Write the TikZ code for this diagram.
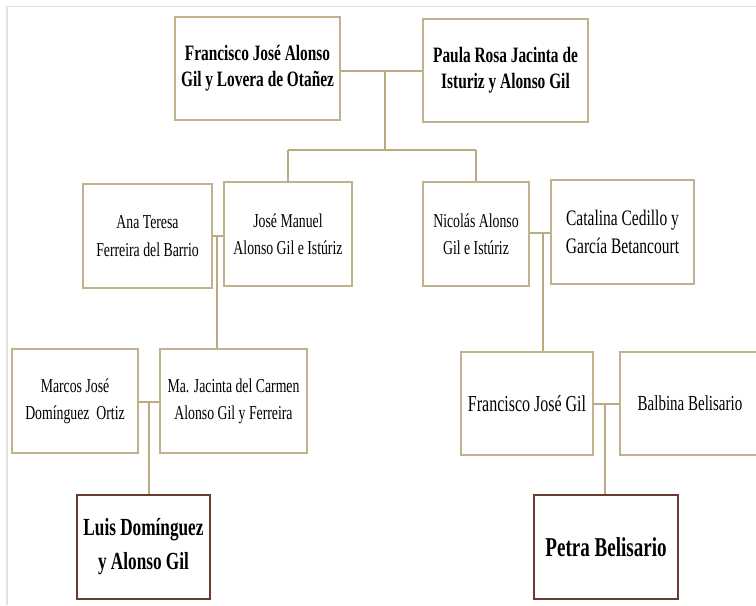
\documentclass[tikz,border=0pt]{standalone}
\usepackage{fontspec}
\setmainfont[FakeStretch=0.7]{Liberation Serif}
\usetikzlibrary{positioning, calc}
\definecolor{boxtan}{RGB}{192,178,142}
\definecolor{linetan}{RGB}{188,170,130}
\definecolor{kidbrown}{RGB}{105,58,48}
\definecolor{framegray}{RGB}{226,226,226}
\tikzset{
  famnode/.style={draw=boxtan, line width=1pt, fill=white, align=center, inner sep=2pt,
    font=\fontsize{11.2}{15.5}\selectfont},
  famwide/.style={famnode, font=\fontsize{12.6}{15.5}\selectfont},
  famtop/.style={famnode, font=\fontsize{12.5}{15}\selectfont\bfseries},
  famkid/.style={famnode, draw=kidbrown, line width=1.2pt,
    font=\fontsize{14}{19.3}\selectfont\bfseries},
  famedge/.style={draw=linetan, line width=1pt}
}
\begin{document}
\begin{tikzpicture}[x=0.02cm, y=-0.02cm]
  \useasboundingbox (0,0) rectangle (756,605);
  \draw[framegray, line width=1.1pt] (7,605) -- (7,6.5) -- (756,6.5);
  % first generation
  \node[famtop, minimum width=3.3cm, minimum height=2.06cm] (fr1) at (257.5,68.5)
    {Francisco José Alonso\\Gil y Lovera de Otañez};
  \node[famtop, minimum width=3.3cm, minimum height=2.06cm] (pa1) at (505.5,70.5)
    {Paula Rosa Jacinta de\\Isturiz y Alonso Gil};
  % second generation
  \node[famnode, minimum width=2.58cm, minimum height=2.08cm] (ana) at (147.5,236)
    {Ana Teresa\\Ferreira del Barrio};
  \node[famnode, minimum width=2.56cm, minimum height=2.08cm] (jm) at (288,234)
    {José Manuel\\Alonso Gil e Istúriz};
  \node[famnode, minimum width=2.12cm, minimum height=2.08cm] (nic) at (476,234)
    {Nicolás Alonso\\Gil e Istúriz};
  \node[famwide, minimum width=2.86cm, minimum height=2.08cm] (cat) at (622.5,232)
    {Catalina Cedillo y\\García Betancourt};
  % third generation
  \node[famnode, minimum width=2.52cm, minimum height=2.08cm] (mar) at (75,401)
    {Marcos José\\Domínguez\ \ Ortiz};
  \node[famnode, minimum width=2.94cm, minimum height=2.08cm] (mj) at (233.5,401)
    {Ma. Jacinta del Carmen\\Alonso Gil y Ferreira};
  \node[famwide, minimum width=2.64cm, minimum height=2.06cm, font=\fontsize{13}{15}\selectfont] (fjg) at (527,403.5)
    {Francisco José Gil};
  \node[famwide, minimum width=2.8cm, minimum height=2.06cm, font=\fontsize{12.2}{15}\selectfont] (bal) at (690,403.5)
    {Balbina Belisario};
  % fourth generation
  \node[famkid, minimum width=2.66cm, minimum height=2.08cm] (luis) at (143.5,547)
    {Luis Domínguez\\y Alonso Gil};
  \node[famkid, minimum width=2.88cm, minimum height=2.08cm, font=\fontsize{15.5}{19.3}\selectfont\bfseries] (pet) at (606,547)
    {Petra Belisario};
  % couples and descent
  \coordinate (c1) at (385,71);
  \coordinate (s1) at (385,150);
  \draw[famedge] (c1 -| fr1.east) -- (c1 -| pa1.west);
  \draw[famedge] (c1) -- (s1);
  \draw[famedge] (s1 -| jm.north) -- (s1 -| nic.north);
  \draw[famedge] (s1 -| jm.north) -- (jm.north);
  \draw[famedge] (s1 -| nic.north) -- (nic.north);
  \coordinate (c2) at (217,236);
  \draw[famedge] (c2 -| ana.east) -- (c2 -| jm.west);
  \draw[famedge] (c2) -- (c2 |- mj.north);
  \coordinate (c3) at (543,233);
  \draw[famedge] (c3 -| nic.east) -- (c3 -| cat.west);
  \draw[famedge] (c3) -- (c3 |- fjg.north);
  \coordinate (c4) at (149,402);
  \draw[famedge] (c4 -| mar.east) -- (c4 -| mj.west);
  \draw[famedge] (c4) -- (c4 |- luis.north);
  \coordinate (c5) at (605,404);
  \draw[famedge] (c5 -| fjg.east) -- (c5 -| bal.west);
  \draw[famedge] (c5) -- (c5 |- pet.north);
\end{tikzpicture}
\end{document}
